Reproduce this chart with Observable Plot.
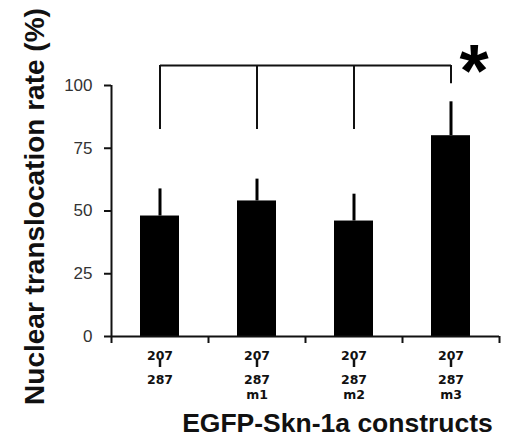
<!DOCTYPE html>
<html><head><meta charset="utf-8">
<script src="https://cdn.jsdelivr.net/npm/d3@7"></script>
<script src="https://cdn.jsdelivr.net/npm/@observablehq/plot@0.6"></script>
<style>body{margin:0;background:#fff}</style>
</head><body><div id="chart"></div>
<script>
const constructs = ["207-287", "207-287m1", "207-287m2", "207-287m3"];
const labelTop = ["207", "207", "207", "207"];
const labelMid = ["287", "287", "287", "287"];
const labelBottom = ["", "m1", "m2", "m3"];
const means = [48, 54, 46, 80];
const errors = [10.8, 8.7, 10.7, 13.5];
const yTicks = [0, 25, 50, 75, 100];
const bracketY = 108;
const bracketDrop = [82.5, 82.5, 82.5, 100.7];
const sigMark = "*";
const yTitle = "Nuclear translocation rate (%)";
const xTitle = "EGFP-Skn-1a constructs";

const W = 507, H = 438, mL = 111, mR = 8, mT = 85, mB = 102;
const half = (W - mL - mR) / constructs.length / 2;
const rows = constructs.map((c, i) => ({
  c, mean: means[i], err: errors[i],
  top: labelTop[i], mid: labelMid[i], bot: labelBottom[i], drop: bracketDrop[i]
}));
const tickFont = "'DejaVu Sans', sans-serif";

const chart = Plot.plot({
  width: W, height: H,
  marginLeft: mL, marginRight: mR, marginTop: mT, marginBottom: mB,
  style: {fontFamily: "'Liberation Sans', Arial, sans-serif", background: "white", overflow: "visible"},
  x: {domain: constructs, padding: 0, axis: null},
  y: {domain: [0, 100]},
  marks: [
    Plot.barY(rows, {x: "c", y: "mean", fill: "black", insetLeft: 29, insetRight: 29}),
    Plot.ruleX(rows, {x: "c", y1: "mean", y2: d => d.mean + d.err, stroke: "black", strokeWidth: 3}),
    Plot.ruleY([0], {stroke: "#111", strokeWidth: 2}),
    Plot.ruleX([constructs[0]], {x: d => d, y1: 0, y2: 100, dx: -half, stroke: "#111", strokeWidth: 2}),
    Plot.ruleX(constructs, {x: d => d, y1: 0, y2: 0, dx: -half, insetBottom: -7, stroke: "#111", strokeWidth: 2}),
    Plot.ruleX([constructs[constructs.length - 1]], {x: d => d, y1: 0, y2: 0, dx: half, insetBottom: -7, stroke: "#111", strokeWidth: 2}),
    Plot.axisY({ticks: yTicks, tickSize: 7, tickPadding: 12, fontSize: 17, color: "#111", fill: "#333", strokeWidth: 2}),
    // bracket
    Plot.link([bracketY], {x1: () => constructs[0], x2: () => constructs[constructs.length - 1], y1: d => d, y2: d => d, stroke: "#111", strokeWidth: 2}),
    Plot.ruleX(rows, {x: "c", y1: "drop", y2: () => bracketY, stroke: "#111", strokeWidth: 2}),
    Plot.text([sigMark], {x: () => constructs[constructs.length - 1], y: () => bracketY, text: d => d, dx: 23, dy: 31, lineAnchor: "bottom", fontSize: 75, fontWeight: "bold", fill: "black"}),
    // category labels
    Plot.text(rows, {x: "c", y: 0, text: "top", dy: 19, fontSize: 12.5, fontWeight: "bold", fontFamily: tickFont, fill: "#111"}),
    Plot.ruleX(rows, {x: "c", y1: 0, y2: 0, insetTop: 23, insetBottom: -31, stroke: "#111", strokeWidth: 2.5}),
    Plot.text(rows, {x: "c", y: 0, text: "mid", dy: 43, fontSize: 12.5, fontWeight: "bold", fontFamily: tickFont, fill: "#111"}),
    Plot.text(rows, {x: "c", y: 0, text: "bot", dy: 58, fontSize: 12.5, fontWeight: "bold", fontFamily: tickFont, fill: "#111"}),
    // titles
    Plot.text([yTitle], {frameAnchor: "left", text: d => d, rotate: -90, textAnchor: "middle", lineAnchor: "bottom", dx: -68, dy: -4.5, fontSize: 28, fontWeight: "bold", fill: "#111"}),
    Plot.text([xTitle], {frameAnchor: "bottom", text: d => d, textAnchor: "middle", lineAnchor: "bottom", dx: 32, dy: 95, fontSize: 26.5, fontWeight: "bold", fill: "#111"})
  ]
});
document.getElementById("chart").appendChild(chart);
</script>
</body></html>
